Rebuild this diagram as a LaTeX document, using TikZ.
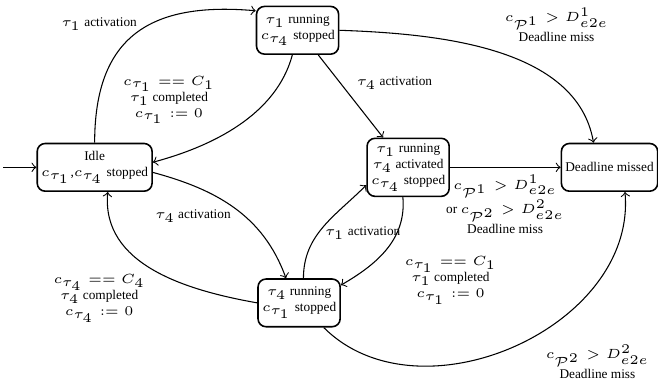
\documentclass[tikz,border=0pt]{standalone}
\usepackage[no-math]{fontspec}
\setmainfont{Liberation Serif}
\usepackage{amsmath}
\usepackage{tikz}
\usetikzlibrary{calc}
\usetikzlibrary{arrows}
\usetikzlibrary{positioning}
\tikzset{
    statebox/.style={draw, semithick, rounded corners=3pt, align=center, font=\tiny,
                     inner xsep=1.5pt, inner ysep=2pt, minimum height=0.63cm},
    guard/.style={align=center, font=\tiny, inner sep=0pt},
}

\begin{document}
\begin{tikzpicture}[>=to]
            % Frame to keep the margins
            \useasboundingbox                 (0.00, 0.00) rectangle (8.69, 5.11);
            % States
            \node[statebox] (idle)     at (1.25, 2.90) {Idle\\$c_{\tau_1}$,$c_{\tau_4}$ stopped};
            \node[statebox] (tauone)   at (3.93, 4.71) {$\tau_1$ running\\$c_{\tau_4}$ stopped};
            \node[statebox] (tauboth)  at (5.39, 2.90) {$\tau_1$ running\\$\tau_4$ activated\\$c_{\tau_4}$ stopped};
            \node[statebox] (taufour)  at (3.95, 1.11) {$\tau_4$ running\\$c_{\tau_1}$ stopped};
            \node[statebox] (missed)   at (8.05, 2.90) {Deadline missed};
            \coordinate     (start)    at (0.04, 2.90);
            % Transitions
            \draw[->] (start)       -- (idle.west);
            \draw[->] (idle.north)  to[out=90,  in=175, looseness=1.3] (tauone.155);
            \draw[->] (tauone.-102) to[out=-105, in=15, looseness=0.9] (idle.5);
            \draw[->] (tauone.-50)  -- (tauboth.130);
            \draw[->] (tauone.east) to[out=-2,  in=100, looseness=0.9] (missed.123);
            \draw[->] (tauboth.east) -- (missed.west);
            \draw[->] (idle.-5)     to[out=-15, in=110] (taufour.118);
            \draw[->] (taufour.west) to[out=170, in=-95] (idle.-62);
            \draw[->] (taufour.80)  to[out=90,  in=225] (tauboth.203);
            \draw[->] (tauboth.-100) to[out=-85, in=30] (taufour.23);
            \draw[->] (taufour.-45) to[out=-45, in=-85, looseness=1.05] (missed.-58);
            % Guards and actions
            \node[guard] (actone)   at (1.31, 4.79) {$\tau_1$ activation};
            \node[guard] (doneone)  at (2.23, 3.79) {$c_{\tau_1} == C_1$\\$\tau_1$ completed\\$c_{\tau_1} := 0$};
            \node[guard] (actfour)  at (5.21, 4.01) {$\tau_4$ activation};
            \node[guard] (missone)  at (7.35, 4.78) {$c_{\mathcal{P}^1} > D^1_{e2e}$\\Deadline miss};
            \node[guard] (missboth) at (6.67, 2.41) {$c_{\mathcal{P}^1} > D^1_{e2e}$\\or $c_{\mathcal{P}^2} > D^2_{e2e}$\\Deadline miss};
            \node[guard] (actfourb) at (2.55, 2.26) {$\tau_4$ activation};
            \node[guard] (donefour) at (1.31, 1.17) {$c_{\tau_4} == C_4$\\$\tau_4$ completed\\$c_{\tau_4} := 0$};
            \node[guard] (actoneb)  at (4.79, 2.03) {$\tau_1$ activation};
            \node[guard] (doneoneb) at (5.95, 1.41) {$c_{\tau_1} == C_1$\\$\tau_1$ completed\\$c_{\tau_1} := 0$};
            \node[guard] (misstwo)  at (7.89, 0.33) {$c_{\mathcal{P}^2} > D^2_{e2e}$\\Deadline miss};
\end{tikzpicture}
\end{document}
